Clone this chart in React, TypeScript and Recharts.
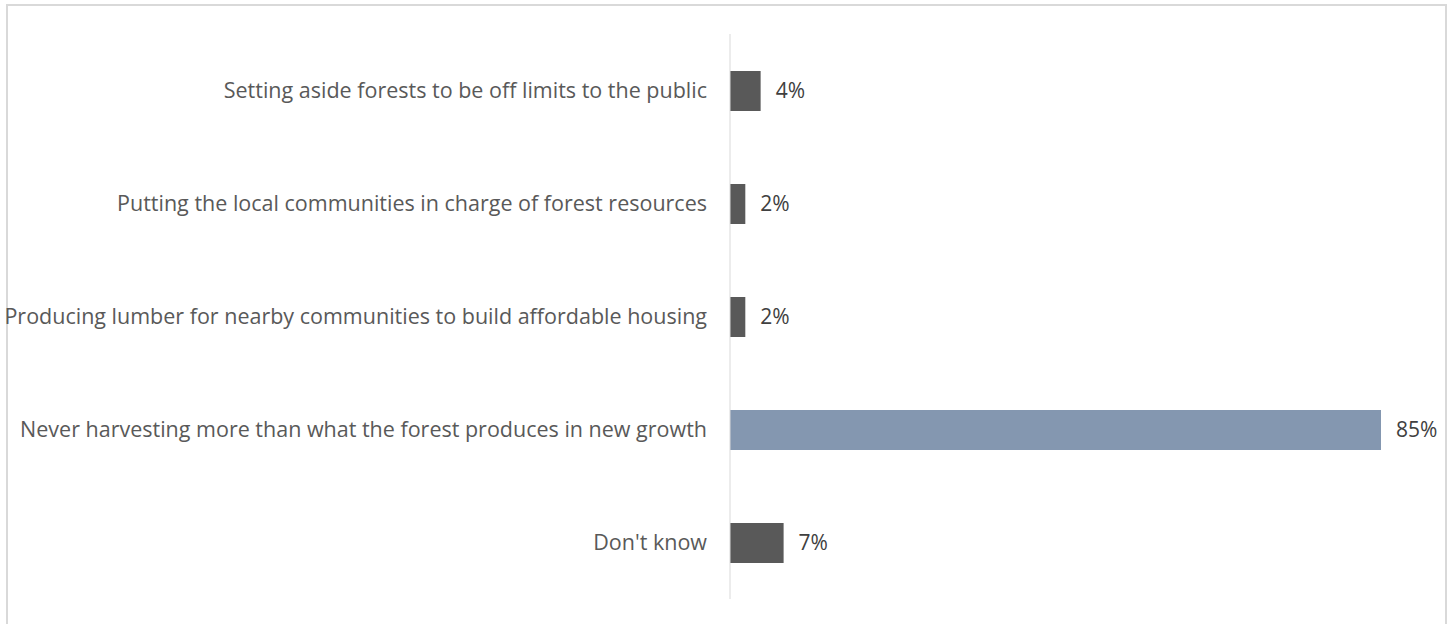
import React from 'react';
import { BarChart, Bar, XAxis, YAxis, Cell, LabelList } from 'recharts';

const categories = [
    'Setting aside forests to be off limits to the public',
    'Putting the local communities in charge of forest resources',
    'Producing lumber for nearby communities to build affordable housing',
    'Never harvesting more than what the forest produces in new growth',
    "Don't know",
];
const shares = [4, 2, 2, 85, 7];
const highlighted = [false, false, false, true, false];

const FONT = '"Open Sans", sans-serif';

const chartData = categories.map((name, i) => ({ name, value: shares[i], hi: highlighted[i] }));

export default function App() {
    return (
        <div style={{ position: 'absolute', left: 0, top: 0, width: 1453, height: 624, background: '#fff', overflow: 'hidden' }}>
            {/* chart frame */}
            <div
                style={{
                    position: 'absolute',
                    left: 6,
                    top: 4,
                    width: 1441,
                    height: 700,
                    border: '2px solid #d9d9d9',
                    boxSizing: 'border-box',
                }}
            />
            <BarChart
                width={1453}
                height={624}
                data={chartData}
                layout="vertical"
                margin={{ top: 34, right: 72, left: 0, bottom: 25 }}
                style={{ position: 'absolute', left: 0, top: 0 }}
            >
                <XAxis type="number" domain={[0, 85]} hide />
                <YAxis
                    type="category"
                    dataKey="name"
                    width={730}
                    axisLine={{ stroke: '#d9d9d9', strokeWidth: 1 }}
                    tickLine={false}
                    tickMargin={17}
                    tick={{ fill: '#595959', fontSize: 21.5, fontFamily: FONT }}
                    interval={0}
                />
                <Bar dataKey="value" barSize={40} isAnimationActive={false}>
                    {chartData.map((d, i) => (
                        <Cell key={i} fill={d.hi ? '#8497b0' : '#595959'} />
                    ))}
                    <LabelList
                        dataKey="value"
                        position="right"
                        offset={15}
                        formatter={(v: any) => `${v}%`}
                        style={{ fill: '#404040', fontSize: 21, fontFamily: FONT }}
                    />
                </Bar>
            </BarChart>
        </div>
    );
}
